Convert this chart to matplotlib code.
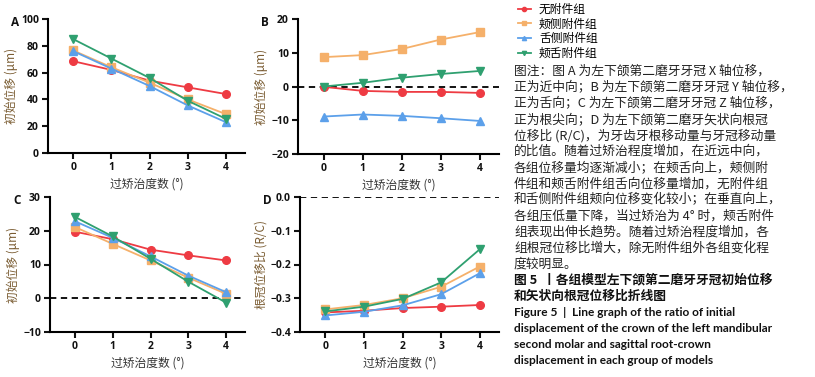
import matplotlib
matplotlib.use("Agg")
import matplotlib.pyplot as plt

plt.rcParams['font.family'] = ['Noto Sans CJK SC', 'DejaVu Sans']

x = [0, 1, 2, 3, 4]
groups = ['无附件组', '颊侧附件组', '舌侧附件组', '颊舌附件组']
colors = ['#EE3B43', '#F5B06A', '#5CA0EA', '#2FA070']
markers = ['o', 's', '^', 'v']

A_vals = [
    [68.5, 62, 54, 49, 44],
    [76.5, 64, 52.5, 40, 29],
    [76, 63, 50, 35.5, 23],
    [85, 70.5, 56, 39, 25.5],
]
B_vals = [
    [-0.1, -1.3, -1.6, -1.6, -1.9],
    [8.7, 9.3, 11.1, 13.9, 16.1],
    [-8.9, -8.3, -8.7, -9.4, -10.2],
    [0.0, 1.1, 2.6, 3.7, 4.6],
]
C_vals = [
    [19.7, 17.5, 14.4, 12.7, 11.2],
    [21.1, 16.1, 11.2, 6.1, 1.3],
    [22.8, 17.9, 12.4, 6.7, 1.8],
    [24.1, 18.3, 11.7, 4.9, -1.3],
]
D_vals = [
    [-0.342, -0.337, -0.329, -0.325, -0.320],
    [-0.333, -0.320, -0.300, -0.266, -0.206],
    [-0.351, -0.340, -0.321, -0.288, -0.226],
    [-0.339, -0.325, -0.302, -0.253, -0.155],
]

xlabel = '过矫治度数 (°)'
ylabel_disp = '初始位移 (μm)'
ylabel_ratio = '根冠位移比 (R/C)'

W, H = 815, 377
fig = plt.figure(figsize=(W / 100, H / 100), dpi=100)

def px_axes(l, t, r, b):
    return fig.add_axes([l / W, 1 - b / H, (r - l) / W, (b - t) / H])

panels = [
    ('A', A_vals, (48, 19, 245, 153), (0, 100), [0, 20, 40, 60, 80, 100], False, ylabel_disp, None),
    ('B', B_vals, (298, 19, 499, 154), (-20, 20), [-20, -10, 0, 10, 20], True, ylabel_disp, None),
    ('C', C_vals, (50, 197, 245, 332), (-10, 30), [-10, 0, 10, 20, 30], True, ylabel_disp, None),
    ('D', D_vals, (300, 197, 499, 332), (-0.4, 0.0), [-0.4, -0.3, -0.2, -0.1, 0.0], True, ylabel_ratio, '%.1f'),
]
tick_family = ['Open Sans', 'DejaVu Sans']

handles = []
for label, vals, box, ylim, yticks, zero, ylab, fmt in panels:
    ax = px_axes(*box)
    if zero:
        ax.axhline(0, color='black', lw=1.3, ls=(0, (3.5, 2.5)), zorder=1)
    hs = []
    for v, c, m, g in zip(vals, colors, markers, groups):
        h, = ax.plot(x, v, color=c, marker=m, markersize=5.5, lw=1.3, label=g, zorder=3)
        hs.append(h)
    if not handles:
        handles = hs
    ax.set_xlim(-0.66, 4.5)
    ax.set_ylim(*ylim)
    ax.set_xticks(x)
    ax.set_yticks(yticks)
    if fmt:
        ax.set_yticklabels([('%.1f' % t).replace('-', '−') for t in yticks])
    for s in ['top', 'right']:
        ax.spines[s].set_visible(False)
    for s in ['left', 'bottom']:
        ax.spines[s].set_linewidth(1.5)
    ax.tick_params(axis='both', direction='out', length=4, width=1.5, labelsize=7.5, pad=2.5, colors='#111111')
    for t in ax.get_xticklabels() + ax.get_yticklabels():
        t.set_fontweight('bold')
        t.set_family(tick_family)
    ax.set_xlabel(xlabel, fontsize=8.5, color='#333333', labelpad=3)
    ax.set_ylabel(ylab, fontsize=8.5, color='#7a5c32', labelpad=2)
    fig.text((box[0] - 37) / W, 1 - (box[1] + 3) / H, label, fontsize=8.5, fontweight='bold',
             family=tick_family, ha='left', va='center', color='#111111')

fig.legend(handles=handles, labels=groups, loc='upper left', bbox_to_anchor=(513 / W, 1 + 2 / H),
           frameon=False, fontsize=8.5, handlelength=1.1, handletextpad=0.7, labelspacing=0.15,
           markerscale=0.55, borderaxespad=0)

note_lines = [
    '图注：图 A 为左下颌第二磨牙牙冠 X 轴位移，',
    '正为近中向；B 为左下颌第二磨牙牙冠 Y 轴位移，',
    '正为舌向；C 为左下颌第二磨牙牙冠 Z 轴位移，',
    '正为根尖向；D 为左下颌第二磨牙矢状向根冠',
    '位移比 (R/C)，为牙齿牙根移动量与牙冠移动量',
    '的比值。随着过矫治程度增加，在近远中向，',
    '各组位移量均逐渐减小；在颊舌向上，颊侧附',
    '件组和颊舌附件组舌向位移量增加，无附件组',
    '和舌侧附件组颊向位移变化较小；在垂直向上，',
    '各组压低量下降，当过矫治为 4° 时，颊舌附件',
    '组表现出伸长趋势。随着过矫治程度增加，各',
    '组根冠位移比增大，除无附件组外各组变化程',
    '度较明显。',
]
title_cn = [
    '图 5  丨各组模型左下颌第二磨牙牙冠初始位移',
    '和矢状向根冠位移比折线图',
]
title_en = [
    'Figure 5  |  Line graph of the ratio of initial',
    'displacement of the crown of the left mandibular',
    'second molar and sagittal root-crown',
    'displacement in each group of models',
]

y0 = 71
dy = 16.1
i = 0
for line in note_lines:
    fig.text(514 / W, 1 - (y0 + i * dy) / H, line, fontsize=9.2, color='#222222', ha='left', va='center')
    i += 1
for line in title_cn:
    fig.text(514 / W, 1 - (y0 + i * dy) / H, line, fontsize=9.2, color='#111111', fontweight='bold',
             ha='left', va='center')
    i += 1
for line in title_en:
    fig.text(514 / W, 1 - (y0 + i * dy) / H, line, fontsize=8.6, color='#111111', fontweight='bold',
             family=['Lato', 'DejaVu Sans'], ha='left', va='center')
    i += 1

fig.savefig('out.png', dpi=100)
